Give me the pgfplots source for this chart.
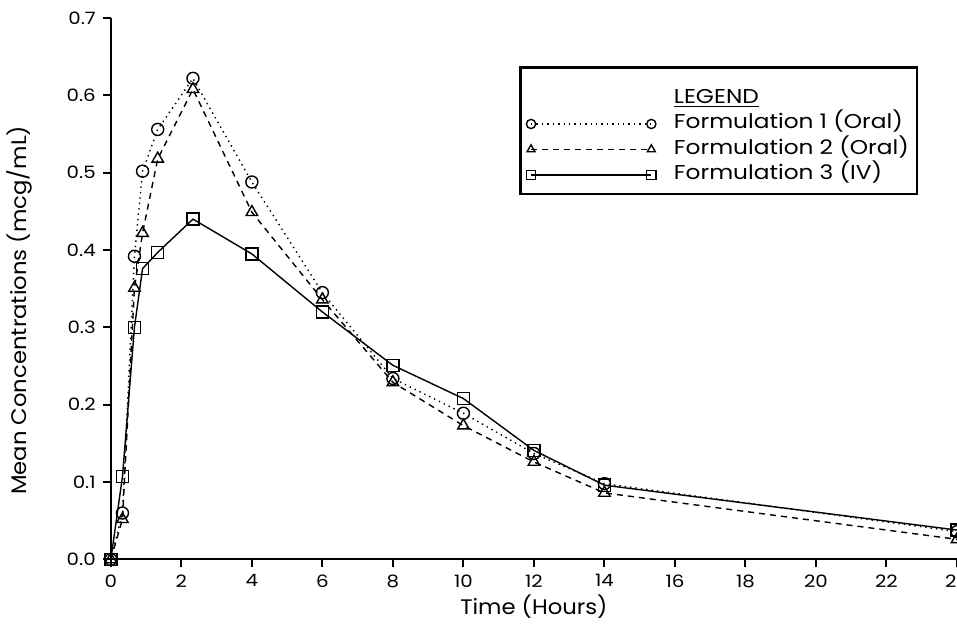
\documentclass[border=0pt]{standalone}
\usepackage{pgfplots}
\pgfplotsset{compat=1.18}
\usepackage{fontspec}
\setmainfont{Poppins}
\newfontfamily\wide{Poppins}[FakeStretch=1.16]
\newfontfamily\labfont{Poppins}[FakeStretch=1.08]
\begin{document}
\begin{tikzpicture}[trim axis right]
\begin{axis}[
    scale only axis, width=422pt, height=270pt,
    xmin=0, xmax=24, ymin=0, ymax=0.7,
    axis x line=bottom, axis y line=left,
    axis line style={-, line width=1pt},
    xtick={0,2,4,6,8,10,12,14,16,18,20,22,24},
    ytick={0,0.1,0.2,0.3,0.4,0.5,0.6,0.7},
    tick align=outside, major tick length=4pt,
    tick style={line width=1pt, black},
    yticklabel style={/pgf/number format/.cd, fixed, fixed zerofill, precision=1},
    /pgf/number format/assume math mode=true,
    tick label style={font=\wide\fontsize{8.5}{9}\selectfont},
    xlabel={Time (Hours)}, ylabel={Mean Concentrations (mcg/mL)},
    every axis x label/.style={at={(axis description cs:0.5,-0.087)}, anchor=center,
        font=\labfont\fontsize{10.5}{12}\selectfont},
    every axis y label/.style={at={(axis description cs:-0.108,0.46)}, rotate=90, anchor=center,
        font=\labfont\fontsize{10.5}{12}\selectfont},
    clip=false,
    legend cell align=left,
    legend image code/.code={\draw[#1, mark size=2.3pt] plot coordinates {(0pt,0pt) (60pt,0pt)};},
    legend style={at={(0.954,0.911)}, anchor=north east, draw=black, line width=1.2pt,
        font=\wide\fontsize{10}{12}\selectfont, inner xsep=3pt, inner ysep=3pt, row sep=-0.3pt,
        nodes={inner sep=1pt, text height=8pt, text depth=3pt},
        /tikz/every odd column/.append style={column sep=8pt}},
]
\addlegendimage{empty legend}
\addlegendentry[text height=14pt]{\underline{LEGEND}}
\addplot[black, line width=0.7pt, dotted, mark=o, mark size=3pt,
    mark options={solid, fill=white, line width=0.7pt}]
    coordinates {(0,0) (0.33,0.060) (0.67,0.392) (0.9,0.502) (1.33,0.556) (2.33,0.622)
    (4,0.488) (6,0.345) (8,0.234) (10,0.189) (12,0.137) (14,0.098) (24,0.036)};
\addlegendentry{Formulation 1 (Oral)}
\addplot[black, line width=0.7pt, dash pattern=on 3pt off 2.5pt, mark=triangle, mark size=3.3pt,
    mark options={solid, fill=white, line width=0.7pt}]
    coordinates {(0,0) (0.33,0.052) (0.67,0.351) (0.9,0.422) (1.33,0.518) (2.33,0.608)
    (4,0.449) (6,0.336) (8,0.229) (10,0.173) (12,0.126) (14,0.086) (24,0.026)};
\addlegendentry{Formulation 2 (Oral)}
\addplot[black, line width=0.7pt, solid, mark=square, mark size=3pt,
    mark options={solid, fill=white, line width=0.7pt}]
    coordinates {(0,0) (0.33,0.107) (0.67,0.300) (0.9,0.376) (1.33,0.397) (2.33,0.440)
    (4,0.395) (6,0.320) (8,0.251) (10,0.208) (12,0.141) (14,0.096) (24,0.038)};
\addlegendentry{Formulation 3 (IV)}
\end{axis}
\path ([yshift=9pt]current axis.north west);
\end{tikzpicture}
\end{document}
